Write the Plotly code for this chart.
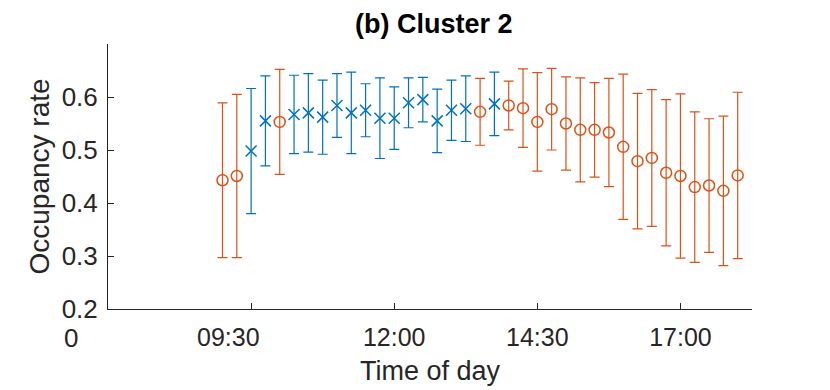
import plotly.graph_objects as go

# time slots (15 min) from 09:00 to 18:00
times = ["09:00", "09:15", "09:30", "09:45", "10:00", "10:15", "10:30", "10:45",
         "11:00", "11:15", "11:30", "11:45", "12:00", "12:15", "12:30", "12:45",
         "13:00", "13:15", "13:30", "13:45", "14:00", "14:15", "14:30", "14:45",
         "15:00", "15:15", "15:30", "15:45", "16:00", "16:15", "16:30", "16:45",
         "17:00", "17:15", "17:30", "17:45", "18:00"]

mean_rate = [0.443, 0.451, 0.498, 0.555, 0.553, 0.567, 0.570, 0.562,
             0.584, 0.570, 0.575, 0.560, 0.560, 0.589, 0.595, 0.555,
             0.575, 0.578, 0.572, 0.587, 0.584, 0.579, 0.553, 0.577,
             0.550, 0.538, 0.538, 0.533, 0.506, 0.479, 0.485, 0.457,
             0.451, 0.430, 0.433, 0.423, 0.452]

std_rate = [0.146, 0.154, 0.118, 0.085, 0.099, 0.074, 0.074, 0.070,
            0.060, 0.077, 0.050, 0.076, 0.059, 0.047, 0.042, 0.060,
            0.057, 0.062, 0.063, 0.060, 0.046, 0.074, 0.093, 0.077,
            0.088, 0.098, 0.089, 0.102, 0.137, 0.128, 0.129, 0.138,
            0.155, 0.142, 0.126, 0.141, 0.157]

# which slots belong to the "x" group (blue); the rest are circles (orange)
blue_slots = ["09:30", "09:45", "10:15", "10:30", "10:45", "11:00", "11:15",
              "11:30", "11:45", "12:00", "12:15", "12:30", "12:45", "13:00",
              "13:15", "13:45"]

x_ticks = ["09:30", "12:00", "14:30", "17:00"]
y_ticks = [0.2, 0.3, 0.4, 0.5, 0.6]

BLUE = "#0072BD"
ORANGE = "#D95319"
AX = "#262626"
FONT = "Liberation Sans, Arial, Helvetica, sans-serif"


def to_min(t):
    h, m = t.split(":")
    return int(h) * 60 + int(m)


groups = {"blue": ([], [], []), "orange": ([], [], [])}
for t, m, s in zip(times, mean_rate, std_rate):
    key = "blue" if t in blue_slots else "orange"
    groups[key][0].append(to_min(t))
    groups[key][1].append(m)
    groups[key][2].append(s)

fig = go.Figure()
styles = {
    "blue": (BLUE, "x-thin-open", 11),
    "orange": (ORANGE, "circle-open", 11),
}
for key in ["blue", "orange"]:
    xs, ys, es = groups[key]
    color, symbol, size = styles[key]
    fig.add_trace(go.Scatter(
        x=xs, y=ys, mode="markers",
        marker=dict(symbol=symbol, size=size, color=color,
                    line=dict(color=color, width=1.5)),
        error_y=dict(type="data", array=es, color=color, thickness=1.2, width=5),
        showlegend=False,
    ))

tick_vals = [to_min(t) for t in x_ticks]
tick_text = [""] + x_ticks[1:]

# the page body adds an 8px offset, so the figure is drawn 8px smaller
W, H = 822, 382
fig.update_layout(
    width=W, height=H,
    margin=dict(l=100, r=78, t=36, b=81),
    paper_bgcolor="white", plot_bgcolor="white",
    font=dict(family=FONT, color=AX, size=26),
    title=dict(text="<b>(b) Cluster 2</b>", x=0.518, xanchor="center",
               y=1, yanchor="top", automargin=False, pad=dict(t=6),
               font=dict(family=FONT, size=27, color="black")),
    xaxis=dict(range=[420, 1095], tickvals=tick_vals, ticktext=tick_text,
               ticks="inside", ticklen=6, tickcolor=AX, showline=True,
               linecolor=AX, linewidth=1, showgrid=False, zeroline=False,
               automargin=False, ticklabelstandoff=6,
               tickfont=dict(size=25, color=AX),
               title=dict(text="Time of day", font=dict(size=27, color=AX),
                          standoff=11)),
    yaxis=dict(range=[0.2, 0.7], tickvals=y_ticks,
               ticktext=[f"{v:.1f}" for v in y_ticks],
               ticks="inside", ticklen=6, tickcolor=AX, showline=True,
               linecolor=AX, linewidth=1, showgrid=False, zeroline=False,
               automargin=False, ticklabelstandoff=4,
               tickfont=dict(size=26, color=AX),
               title=dict(text="Occupancy rate", font=dict(size=28, color=AX),
                          standoff=3)),
)

# the offset 09:30 label and the stray "0" under the y axis
fig.add_annotation(x=to_min("09:30"), y=0, xref="x", yref="paper",
                   text="09:30", showarrow=False, xshift=-23, yshift=-12,
                   yanchor="top", font=dict(size=25, color=AX))
fig.add_annotation(x=-37 / 644, y=0, xref="paper", yref="paper",
                   text="0", showarrow=False, yshift=-12,
                   xanchor="center", yanchor="top", font=dict(size=26, color=AX))

fig.write_html("out.html")
